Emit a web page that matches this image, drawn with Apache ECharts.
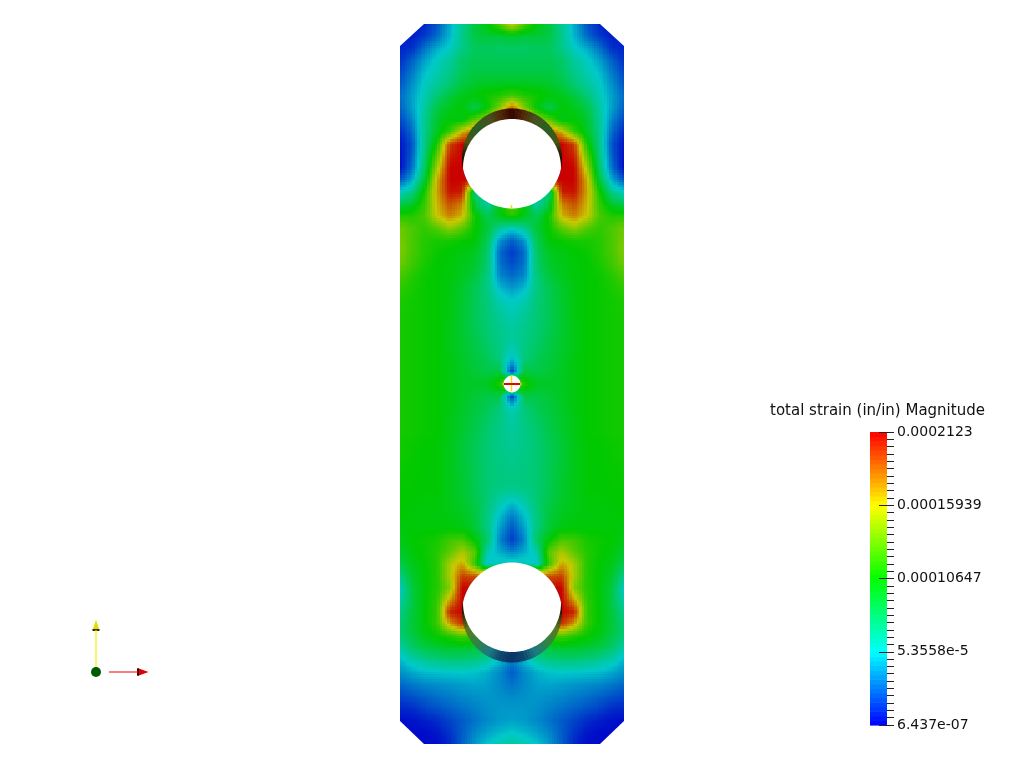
<!DOCTYPE html>
<html><head><meta charset="utf-8">
<style>html,body{margin:0;padding:0;background:#fff}#c{width:1024px;height:768px}</style>
<script src="https://cdn.jsdelivr.net/npm/echarts@6/dist/echarts.min.js"></script></head>
<body><div id="c"></div>
<script>
// strain magnitude in 1e-6 in/in; rows top to bottom, columns left to right
const strainRows = [
[5,5,10,22,45,68,90,105,128,165,128,105,90,68,45,22,10,5,5],
[8,8,15,28,48,70,88,92,92,95,92,92,88,70,48,28,15,8,8],
[10,12,30,45,55,70,82,82,80,80,80,82,82,70,55,45,30,12,10],
[12,25,42,56,65,80,85,84,84,84,84,84,85,80,65,56,42,25,12],
[18,32,50,60,70,82,88,88,88,88,88,88,88,82,70,60,50,32,18],
[22,38,55,66,76,88,95,98,98,98,98,98,95,88,76,66,55,38,22],
[28,42,60,76,90,100,105,110,115,125,115,110,105,100,90,76,60,42,28],
[25,42,65,88,100,105,85,105,140,190,140,105,85,105,100,88,65,42,25],
[18,35,68,95,105,100,130,150,190,212,190,150,130,100,105,95,68,35,18],
[10,28,70,98,120,165,190,190,190,190,190,190,190,165,120,98,70,28,10],
[5,22,72,112,195,212,212,212,212,212,212,212,212,212,195,112,72,22,5],
[3,25,75,132,205,212,212,212,212,212,212,212,212,212,205,132,75,25,3],
[3,30,80,150,212,212,212,212,212,212,212,212,212,212,212,150,80,30,3],
[22,45,92,168,212,212,212,212,212,212,212,212,212,212,212,168,92,45,22],
[55,70,112,170,208,205,70,70,70,70,70,70,70,205,208,170,112,70,55],
[85,95,120,165,192,178,90,60,105,135,105,60,90,178,192,165,120,95,85],
[115,115,125,160,178,165,110,85,100,115,100,85,110,165,178,160,125,115,115],
[135,125,118,128,145,130,108,92,68,55,68,92,108,130,145,128,118,125,135],
[138,125,115,112,112,108,105,85,40,25,40,85,105,108,112,112,115,125,138],
[140,125,115,108,105,102,98,80,28,15,28,80,98,102,105,108,115,125,140],
[135,122,112,106,104,100,95,78,30,20,30,78,95,100,104,106,112,122,135],
[125,115,108,106,104,98,90,74,36,28,36,74,90,98,104,106,108,115,125],
[118,112,108,106,102,95,85,72,48,40,48,72,85,95,102,106,108,112,118],
[114,110,108,106,102,94,84,74,60,52,60,74,84,94,102,106,108,110,114],
[112,110,108,106,102,94,84,75,65,58,65,75,84,94,102,106,108,110,112],
[112,110,108,106,101,93,84,76,68,63,68,76,84,93,101,106,108,110,112],
[112,110,108,106,101,94,86,78,70,66,70,78,86,94,101,106,108,110,112],
[112,110,108,106,101,95,88,80,72,60,72,80,88,95,101,106,108,110,112],
[112,110,108,106,102,96,90,84,74,45,74,84,90,96,102,106,108,110,112],
[112,110,108,106,102,97,92,88,90,12,90,88,92,97,102,106,108,110,112],
[112,110,108,106,102,98,96,98,115,190,115,98,96,98,102,106,108,110,112],
[112,110,108,106,102,97,92,88,88,10,88,88,92,97,102,106,108,110,112],
[112,110,108,106,102,96,90,84,74,55,74,84,90,96,102,106,108,110,112],
[112,110,108,106,101,95,88,80,72,62,72,80,88,95,101,106,108,110,112],
[112,110,108,106,101,94,86,78,70,66,70,78,86,94,101,106,108,110,112],
[110,108,106,105,100,92,84,76,70,67,70,76,84,92,100,105,106,108,110],
[110,108,106,105,100,92,84,76,71,69,71,76,84,92,100,105,106,108,110],
[108,107,106,105,100,92,85,76,72,70,72,76,85,92,100,105,106,107,108],
[108,107,105,105,100,94,85,76,73,72,73,76,85,94,100,105,105,107,108],
[106,106,105,105,100,94,85,76,70,66,70,76,85,94,100,105,105,106,106],
[106,105,104,104,100,96,88,76,60,48,60,76,88,96,100,104,104,105,106],
[105,104,103,103,102,98,90,72,50,32,50,72,90,98,102,103,103,104,105],
[102,104,104,104,104,102,92,74,42,22,42,74,92,102,104,104,104,104,102],
[100,106,108,112,122,125,105,80,35,15,35,80,105,125,122,112,108,106,100],
[95,104,108,115,130,150,130,60,45,35,45,60,130,150,130,115,108,104,95],
[85,100,106,115,150,170,120,50,60,60,60,50,120,170,150,115,106,100,85],
[70,95,105,115,150,195,190,190,190,190,190,190,190,195,150,115,105,95,70],
[55,90,105,115,140,212,212,212,212,212,212,212,212,212,140,115,105,90,55],
[60,88,105,118,170,212,212,212,212,212,212,212,212,212,170,118,105,88,60],
[70,90,105,120,205,212,212,212,212,212,212,212,212,212,205,120,105,90,70],
[75,92,105,120,170,200,170,150,150,150,150,150,170,200,170,120,105,92,75],
[75,88,100,108,115,125,120,100,90,80,90,100,120,125,115,108,100,88,75],
[62,78,88,92,95,95,92,85,75,60,75,85,92,95,95,92,88,78,62],
[48,60,68,72,75,75,72,65,50,32,50,65,72,75,75,72,68,60,48],
[38,45,50,52,53,53,52,46,36,24,36,46,52,53,53,52,50,45,38],
[28,32,36,38,40,42,44,42,36,30,36,42,44,42,40,38,36,32,28],
[18,22,26,30,33,36,38,40,38,36,38,40,38,36,33,30,26,22,18],
[10,12,18,22,26,30,34,38,40,40,40,38,34,30,26,22,18,12,10],
[3,5,8,12,18,24,30,36,40,42,40,36,30,24,18,12,8,5,3],
[3,3,3,6,14,24,35,42,48,52,48,42,35,24,14,6,3,3,3],
[3,3,3,3,10,25,40,52,60,65,60,52,40,25,10,3,3,3,3]
];
const strainMax = 212.3;
const barLabels = ['6.437e-07','5.3558e-5','0.00010647','0.00015939','0.0002123'];
const barTitle = 'total strain (in/in) Magnitude';

// ---- styles and geometry
const PW = 224, PH = 720, SUB = 5;
const ramp = [[0,0,255],[0,255,255],[0,255,0],[255,255,0],[255,0,0]];
const wallStops = [0,15,30,50,70,85,95,120];
const wallTop = [[50,5,0],[80,40,10],[70,80,30],[40,95,35],[70,85,20],[40,25,5],[20,5,0],[20,5,0]];
const wallBottom = [[10,50,100],[15,70,110],[30,120,130],[50,130,70],[90,120,30],[60,50,10],[20,5,0],[20,5,0]];
const holeTop = {front:[112,134.5,50], back:[112,144,49], wall:wallTop, up:true};
const holeBottom = {front:[112,588.5,50], back:[112,579,49], wall:wallBottom, up:false};

function rampColor(t, shade){
  t = Math.max(0, Math.min(1, t)) * 4;
  const i = Math.min(3, Math.floor(t)), f = t - i;
  const c = [0,1,2].map(k => Math.round((ramp[i][k] + (ramp[i+1][k]-ramp[i][k]) * f) * shade));
  return 'rgb(' + c.join(',') + ')';
}
function lerpStops(stops, cols, a){
  let i = 0; while (i < stops.length - 2 && a > stops[i+1]) i++;
  const f = Math.min(1, (a - stops[i]) / (stops[i+1] - stops[i]));
  return 'rgb(' + [0,1,2].map(k => Math.round(cols[i][k] + (cols[i+1][k]-cols[i][k]) * f)).join(',') + ')';
}

const nR = strainRows.length - 1, nC = strainRows[0].length - 1;
const cellData = [];
for (let r = 0; r < nR; r++) for (let c = 0; c < nC; c++) {
  cellData.push([c*PW/nC, r*PH/nR, (c+1)*PW/nC, (r+1)*PH/nR,
    strainRows[r][c], strainRows[r][c+1], strainRows[r+1][c], strainRows[r+1][c+1]]);
}
function renderCell(params, api){
  const p0 = api.coord([api.value(0), api.value(1)]), p1 = api.coord([api.value(2), api.value(3)]);
  const a = api.value(4), b = api.value(5), c = api.value(6), d = api.value(7);
  const kids = [];
  for (let j = 0; j < SUB; j++) for (let i = 0; i < SUB; i++) {
    const u = (i+.5)/SUB, v = (j+.5)/SUB;
    const val = (a*(1-u)+b*u)*(1-v) + (c*(1-u)+d*u)*v;
    const x0 = Math.round(p0[0]+(p1[0]-p0[0])*i/SUB), x1 = Math.round(p0[0]+(p1[0]-p0[0])*(i+1)/SUB);
    const y0 = Math.round(p0[1]+(p1[1]-p0[1])*j/SUB), y1 = Math.round(p0[1]+(p1[1]-p0[1])*(j+1)/SUB);
    kids.push({type:'rect', shape:{x:x0,y:y0,width:x1-x0,height:y1-y0}, style:{fill:rampColor(val/strainMax,0.79)}});
  }
  return {type:'group', children:kids, silent:true};
}

function rayToCircle(m, dx, dy, c){
  const fx = m[0]-c[0], fy = m[1]-c[1];
  const b = fx*dx+fy*dy, q = fx*fx+fy*fy-c[2]*c[2];
  return -b + Math.sqrt(b*b-q);
}
function holeShapes(h, api){
  const out = [], f = h.front, pt = p => api.coord(p);
  for (let a = -120; a < 120; a += 4) {
    const A = (a-90)*Math.PI/180, B = (a+4.5-90)*Math.PI/180;
    const s = h.up ? 1 : -1;
    const P = [pt([f[0],f[1]]),
      pt([f[0]+f[2]*Math.cos(A), f[1]+s*f[2]*Math.sin(A)]),
      pt([f[0]+f[2]*Math.cos(B), f[1]+s*f[2]*Math.sin(B)])];
    out.push({type:'polygon', shape:{points:P}, style:{fill:lerpStops(wallStops,h.wall,Math.abs(a+2))}});
  }
  const m = [(h.front[0]+h.back[0])/2, (h.front[1]+h.back[1])/2], white = [];
  for (let a = 0; a < 360; a += 3) {
    const dx = Math.cos(a*Math.PI/180), dy = Math.sin(a*Math.PI/180);
    const t = Math.min(rayToCircle(m,dx,dy,h.front), rayToCircle(m,dx,dy,h.back));
    white.push(pt([m[0]+t*dx, m[1]+t*dy]));
  }
  out.push({type:'polygon', shape:{points:white}, style:{fill:'#fff'}});
  return out;
}
function renderOverlay(params, api){
  const kids = [...holeShapes(holeTop, api), ...holeShapes(holeBottom, api)];
  const corners = [
    [[0,0],[24,0],[0,22]], [[PW,0],[PW-24,0],[PW,22]],
    [[0,PH],[24,PH],[0,PH-23]], [[PW,PH],[PW-24,PH],[PW,PH-23]]];
  corners.forEach(t => kids.push({type:'polygon', shape:{points:t.map(p=>api.coord(p))}, style:{fill:'#fff'}}));
  const hc = api.coord([112,360]);
  kids.push({type:'circle', shape:{cx:hc[0],cy:hc[1],r:8.5}, style:{fill:'#fff'}});
  const seg = (a,b,col,w)=>kids.push({type:'line', shape:{x1:api.coord(a)[0],y1:api.coord(a)[1],x2:api.coord(b)[0],y2:api.coord(b)[1]}, style:{stroke:col,lineWidth:w}});
  seg([111.5,352],[111.5,367],'#f0e000',1.5);
  seg([104,360],[120,360],'#ee0000',2);
  seg([111.5,181],[111.5,185],'#f0e000',1.5);
  return {type:'group', children:kids, silent:true};
}

// colour bar bands
const bandCount = 64, bandData = [];
for (let i = 0; i < bandCount; i++) bandData.push([i*4/bandCount,(i+1)*4/bandCount,(i+.5)/bandCount]);
function renderBand(params, api){
  const p0 = api.coord([0, api.value(0)]), p1 = api.coord([17, api.value(1)]);
  return {type:'rect', shape:{x:p0[0],y:p1[1],width:p1[0]-p0[0],height:p0[1]-p1[1]+.6}, style:{fill:rampColor(api.value(2),1)}, silent:true};
}

const triadX = [[13,0],[42,0]], triadY = [[0,5],[0,42]];
const FONT = 'DejaVu Sans';
const option = {
  animation:false, backgroundColor:'#fff',
  title:{text:barTitle, left:765, top:399, textStyle:{fontFamily:FONT,fontWeight:'normal',fontSize:15,color:'#111'}},
  grid:[
    {left:400,top:24,width:PW,height:PH},
    {left:870,top:432,width:24,height:293},
    {left:76,top:612,width:80,height:70}
  ],
  xAxis:[
    {gridIndex:0,type:'value',min:0,max:PW,show:false},
    {gridIndex:1,type:'value',min:0,max:24,show:false},
    {gridIndex:2,type:'value',min:-20,max:60,show:false}
  ],
  yAxis:[
    {gridIndex:0,type:'value',min:0,max:PH,inverse:true,show:false},
    {gridIndex:1,type:'value',min:0,max:4,interval:1,position:'left',offset:-24,z:5,
      axisLine:{show:false},
      axisTick:{show:true,inside:false,length:15,lineStyle:{color:'#222',width:1}},
      minorTick:{show:true,splitNumber:10,length:7,lineStyle:{color:'#222',width:1}},
      splitLine:{show:false},
      axisLabel:{show:true,inside:true,margin:3,fontFamily:FONT,fontSize:14,color:'#111',showMinLabel:true,showMaxLabel:true,
        formatter:v=>barLabels[Math.round(v)]}},
    {gridIndex:2,type:'value',min:-10,max:60,show:false}
  ],
  series:[
    {type:'custom',xAxisIndex:0,yAxisIndex:0,data:cellData,renderItem:renderCell,clip:false,z:2,silent:true,
      encode:{x:[0,2],y:[1,3]},progressive:0},
    {type:'custom',xAxisIndex:0,yAxisIndex:0,data:[[0,0]],renderItem:renderOverlay,clip:false,z:3,silent:true},
    {type:'custom',xAxisIndex:1,yAxisIndex:1,data:bandData,renderItem:renderBand,clip:false,z:2,silent:true,progressive:0},
    {type:'line',xAxisIndex:2,yAxisIndex:2,data:triadX,showSymbol:false,silent:true,lineStyle:{color:'#ee0000',width:1.2}},
    {type:'line',xAxisIndex:2,yAxisIndex:2,data:triadY,showSymbol:false,silent:true,lineStyle:{color:'#f4f400',width:1.2}},
    {type:'scatter',xAxisIndex:2,yAxisIndex:2,data:[[0,0]],symbol:'circle',symbolSize:10,silent:true,itemStyle:{color:'#005a00',opacity:1}},
    {type:'scatter',xAxisIndex:2,yAxisIndex:2,data:[[47,0]],symbol:'triangle',symbolSize:[8,11],symbolRotate:-90,silent:true,itemStyle:{color:'#dd0000',opacity:1}},
    {type:'scatter',xAxisIndex:2,yAxisIndex:2,data:[[0,47]],symbol:'triangle',symbolSize:[7,10],silent:true,itemStyle:{color:'#e0e000',opacity:1}},
    {type:'scatter',xAxisIndex:2,yAxisIndex:2,data:[[42,0]],symbol:'rect',symbolSize:[2,7],silent:true,itemStyle:{color:'#300',opacity:1}},
    {type:'scatter',xAxisIndex:2,yAxisIndex:2,data:[[0,42]],symbol:'rect',symbolSize:[7,2],silent:true,itemStyle:{color:'#330',opacity:1}}
  ]
};
const chart = echarts.init(document.getElementById('c'), null, {renderer:'canvas'});
chart.setOption(option);
</script></body></html>
